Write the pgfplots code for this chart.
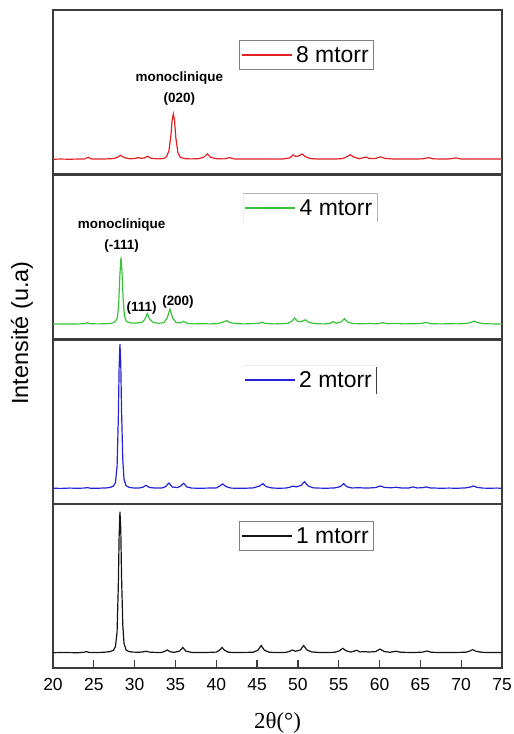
\documentclass[border=0pt]{standalone}
\usepackage{pgfplots}
\pgfplotsset{compat=1.18}
\usepackage{fontspec}
\setmainfont{Liberation Sans}
\newfontfamily\serif{Liberation Serif}

\definecolor{cred}{RGB}{228,32,36}
\definecolor{cgreen}{RGB}{56,196,56}
\definecolor{cblue}{RGB}{36,36,214}
\definecolor{cblack}{RGB}{20,20,20}
\definecolor{frame}{RGB}{60,60,60}

% 2theta scans, one table per pressure
\pgfplotstableread{
x y
20 9.3
21 9.5
22 9.4
23 9.3
23.8 9.6
24.1 10.0
24.4 9.5
25 9.4
25.8 9.5
26.5 9.7
27.0 10.0
27.4 10.8
27.65 13
27.85 22
28.0 50
28.1 80
28.2 95.3
28.3 85
28.4 55
28.55 26
28.7 15
28.95 11
29.3 10
29.8 9.7
30.5 9.6
31.0 9.8
31.4 10.2
31.8 9.7
32.5 9.5
33.3 9.5
33.7 10.2
34.0 11.0
34.3 10.0
34.8 9.5
35.5 10.3
35.9 12.5
36.3 10.2
37 9.5
38 9.4
39 9.5
40 9.7
40.4 10.8
40.7 12.5
41.0 10.8
41.5 9.6
42.5 9.4
43.5 9.5
44.5 9.6
45.1 10.8
45.5 13.7
45.9 10.8
46.5 9.6
47.5 9.4
48.5 9.5
49.0 10.2
49.3 11.0
49.7 10.2
50.3 11
50.7 13.7
51.1 11
51.7 9.8
52.5 9.5
53.5 9.4
54.5 9.6
55.1 10.5
55.5 12
55.9 10.5
56.5 9.7
57.2 10.8
57.6 9.8
58.2 10.0
58.6 9.7
59.5 10.0
60.05 11.5
60.6 10.0
61.3 9.6
62.0 10.2
62.6 9.6
63.5 9.5
64.5 9.5
65.3 9.7
65.8 10.4
66.3 9.6
67.5 9.4
68.5 9.4
69.5 9.5
70.5 9.6
71.0 10.2
71.4 11.2
71.8 10.2
72.5 9.6
73.5 9.4
74.3 9.5
75 9.4
}\onemtorr

\pgfplotstableread{
x y
20 9.6
21 9.5
22 9.7
23 9.6
23.8 9.7
24.2 10.0
24.6 9.6
25.5 9.6
26.5 9.8
27.0 10.1
27.4 10.9
27.65 13
27.85 23
28.0 52
28.1 83
28.2 97.4
28.3 86
28.4 56
28.55 27
28.7 15
28.95 11.2
29.3 10.2
29.8 9.8
30.5 9.7
31.0 10.2
31.4 11.4
31.8 10.1
32.5 9.7
33.3 9.7
33.8 10.6
34.2 12.8
34.6 10.4
35.2 10.0
35.6 10.8
36.0 12.6
36.4 10.4
37 9.7
38 9.6
39 9.7
40 9.8
40.4 10.9
40.8 12.2
41.2 10.6
41.8 9.7
42.5 9.6
43.5 9.6
44.5 9.8
45.3 10.9
45.7 12.4
46.1 10.6
46.8 9.8
47.5 9.6
48.5 9.7
49.0 10.2
49.4 10.9
49.8 10.4
50.4 11.4
50.8 13.6
51.2 11.2
51.8 9.9
52.5 9.7
53.5 9.6
54.5 9.8
55.2 10.6
55.6 12.4
56.0 10.5
56.6 9.8
57.5 9.9
58.5 9.7
59.5 10.0
60.1 11.0
60.6 10.1
61.4 9.9
62.0 10.2
62.8 9.7
63.6 9.8
64.1 10.4
64.6 9.8
65.2 9.9
65.7 10.4
66.2 9.8
67.5 9.6
68.5 9.7
69.5 9.6
70.5 9.8
71.1 10.3
71.5 11.0
71.9 10.2
72.6 9.7
73.5 9.6
74.3 9.7
75 9.6
}\twomtorr

\pgfplotstableread{
x y
20 9.1
21 9.2
22 9.1
23 9.2
23.9 9.3
24.2 10.0
24.5 9.3
25.5 9.2
26.5 9.3
27.2 9.6
27.6 10.5
27.9 13
28.05 22
28.2 40
28.33 49.8
28.45 41
28.6 24
28.75 14
29.0 10.6
29.5 9.8
30.2 9.7
30.9 10.2
31.25 12.0
31.55 15.5
31.85 12.0
32.3 10.0
33.0 9.6
33.6 10.0
34.0 13.0
34.33 18.3
34.65 12.8
35.1 10.0
35.6 9.8
36.0 10.8
36.4 9.6
37.2 9.2
38.2 9.3
39.2 9.2
40.2 9.4
40.9 10.4
41.3 11.2
41.7 10.0
42.5 9.3
43.5 9.2
44.5 9.4
45.2 9.6
45.6 10.2
46.0 9.5
47.0 9.2
48.0 9.3
48.8 9.6
49.3 11.0
49.6 12.8
49.95 10.8
50.4 10.5
50.9 11.7
51.4 10.0
52.2 9.3
53.2 9.2
53.9 9.5
54.3 10.5
54.7 9.6
55.3 10.4
55.7 12.4
56.1 10.3
56.8 9.4
57.8 9.3
58.8 9.4
59.8 9.3
60.4 10.0
61.0 9.3
62.0 9.5
63.0 9.2
64.0 9.3
65.0 9.4
65.7 10.1
66.3 9.3
67.5 9.2
68.5 9.3
69.5 9.2
70.5 9.4
71.2 10.1
71.6 10.9
72.0 10.0
72.8 9.3
73.8 9.2
75 9.2
}\fourmtorr

\pgfplotstableread{
x y
20 9.0
21 9.1
22 9.0
23 9.1
23.9 9.2
24.3 10.2
24.7 9.2
25.5 9.1
26.5 9.2
27.4 9.4
27.9 10.2
28.3 11.4
28.7 10.0
29.4 9.3
30.0 9.4
30.4 10.0
30.8 9.5
31.2 9.8
31.6 10.8
32.0 9.6
32.8 9.2
33.5 9.4
33.9 10.5
34.2 14
34.45 24
34.6 33
34.74 36.6
34.88 33
35.05 22
35.3 13
35.6 10.2
36.2 9.3
37.0 9.2
37.8 9.3
38.5 10.3
38.9 12.3
39.3 10.2
40.0 9.3
41.0 9.2
41.6 10.0
42.2 9.2
43.2 9.1
44.2 9.2
45.2 9.1
46.2 9.2
47.2 9.1
48.2 9.2
49.0 9.8
49.4 11.6
49.75 10.6
50.1 11.0
50.5 12.2
50.9 10.6
51.5 9.4
52.5 9.1
53.5 9.2
54.5 9.1
55.5 9.4
56.0 10.5
56.4 11.8
56.8 10.4
57.5 9.3
58.3 10.3
58.8 9.4
59.5 9.5
60.1 10.4
60.7 9.5
61.5 9.2
62.5 9.1
63.5 9.2
64.5 9.1
65.4 9.3
66.0 10.0
66.5 9.3
67.5 9.1
68.5 9.2
69.4 9.8
69.9 9.2
70.8 9.1
71.8 9.2
72.8 9.1
73.8 9.2
75 9.1
}\eightmtorr

\pgfplotsset{
  panel/.style={
    scale only axis,
    width=449bp, height=164bp,
    anchor=south west,
    xmin=20, xmax=75, ymin=0, ymax=100,
    ytick=\empty,
    axis line style={frame, line width=1.3bp},
    every axis plot/.append style={line width=1.2bp},
    legend image code/.code={\draw[##1, line width=1.6bp] (0bp,0bp) -- (50bp,0bp);},
    legend cell align=left,
    legend style={
      anchor=north west,
      draw=none, fill=white,
      font=\fontsize{23}{26}\selectfont,
      inner xsep=1bp, inner ysep=1.5bp,
      nodes={inner xsep=3.5bp, inner ysep=4bp},
    },
  },
}
\tikzset{ann/.style={font=\bfseries\fontsize{13.5}{15}\selectfont, inner sep=0pt}}

\begin{document}
\begin{tikzpicture}[x=1bp,y=1bp]
\path[use as bounding box] (0,0) rectangle (514,734);

% 1 mtorr (bottom panel, carries the 2theta axis)
\begin{axis}[panel, at={(53bp,66bp)},
  xtick={20,25,...,75},
  tick align=inside, major tick length=8bp,
  tick style={frame, line width=1.2bp},
  xtick pos=bottom,
  xticklabel style={font=\fontsize{17.5}{20}\selectfont, yshift=-7bp},
  /pgf/number format/assume math mode=true,
  xlabel={\serif\fontsize{23}{25}\selectfont 2θ(°)},
  xlabel style={yshift=-14.5bp},
  legend style={at={(rel axis cs:0.416,0.892)}, name=leg1},
]
\addplot[cblack, no markers] table {\onemtorr};
\addlegendentry{1 mtorr}
\end{axis}
\draw[gray, line width=0.7bp] (leg1.south west) rectangle (leg1.north east);

% 2 mtorr
\begin{axis}[panel, at={(53bp,230bp)}, xtick=\empty,
  legend image code/.code={\draw[draw=cblue, line width=1.6bp] (0bp,0bp) -- (50bp,0bp);},
  legend style={at={(rel axis cs:0.423,0.845)}, name=leg2},
]
\addplot[cblue, no markers] table {\twomtorr};
\addlegendentry{2 mtorr}
\end{axis}
\draw[gray!15, line width=0.6bp] (leg2.north west) -- (leg2.north east);
\draw[frame, line width=0.8bp] ([yshift=-2bp]leg2.north east) -- (leg2.south east);

% 4 mtorr
\begin{axis}[panel, at={(53bp,395bp)}, xtick=\empty,
  legend style={at={(rel axis cs:0.424,0.886)}, name=leg4},
]
\addplot[cgreen, no markers] table {\fourmtorr};
\addlegendentry{4 mtorr}
\node[ann] at (axis cs:28.41,69.3) {monoclinique};
\node[ann] at (axis cs:28.41,56.7) {(-111)};
\node[ann] at (axis cs:30.86,18.8) {(111)};
\node[ann] at (axis cs:35.31,22.4) {(200)};
\end{axis}
\draw[gray!60, line width=0.7bp] (leg4.north west) -- (leg4.north east) -- (leg4.south east);
\draw[gray!15, line width=0.6bp] (leg4.north west) -- (leg4.south west);

% 8 mtorr
\begin{axis}[panel, at={(53bp,560bp)}, xtick=\empty,
  legend style={at={(rel axis cs:0.416,0.813)}, name=leg8},
]
\addplot[cred, no markers] table {\eightmtorr};
\addlegendentry{8 mtorr}
\node[ann] at (axis cs:35.47,58.4) {monoclinique};
\node[ann] at (axis cs:35.47,45.7) {(020)};
\end{axis}
\draw[gray, line width=0.7bp] (leg8.south west) rectangle (leg8.north east);

\node[rotate=90, font=\fontsize{23.5}{26}\selectfont] at (22,401) {Intensité (u.a)};
\end{tikzpicture}
\end{document}
